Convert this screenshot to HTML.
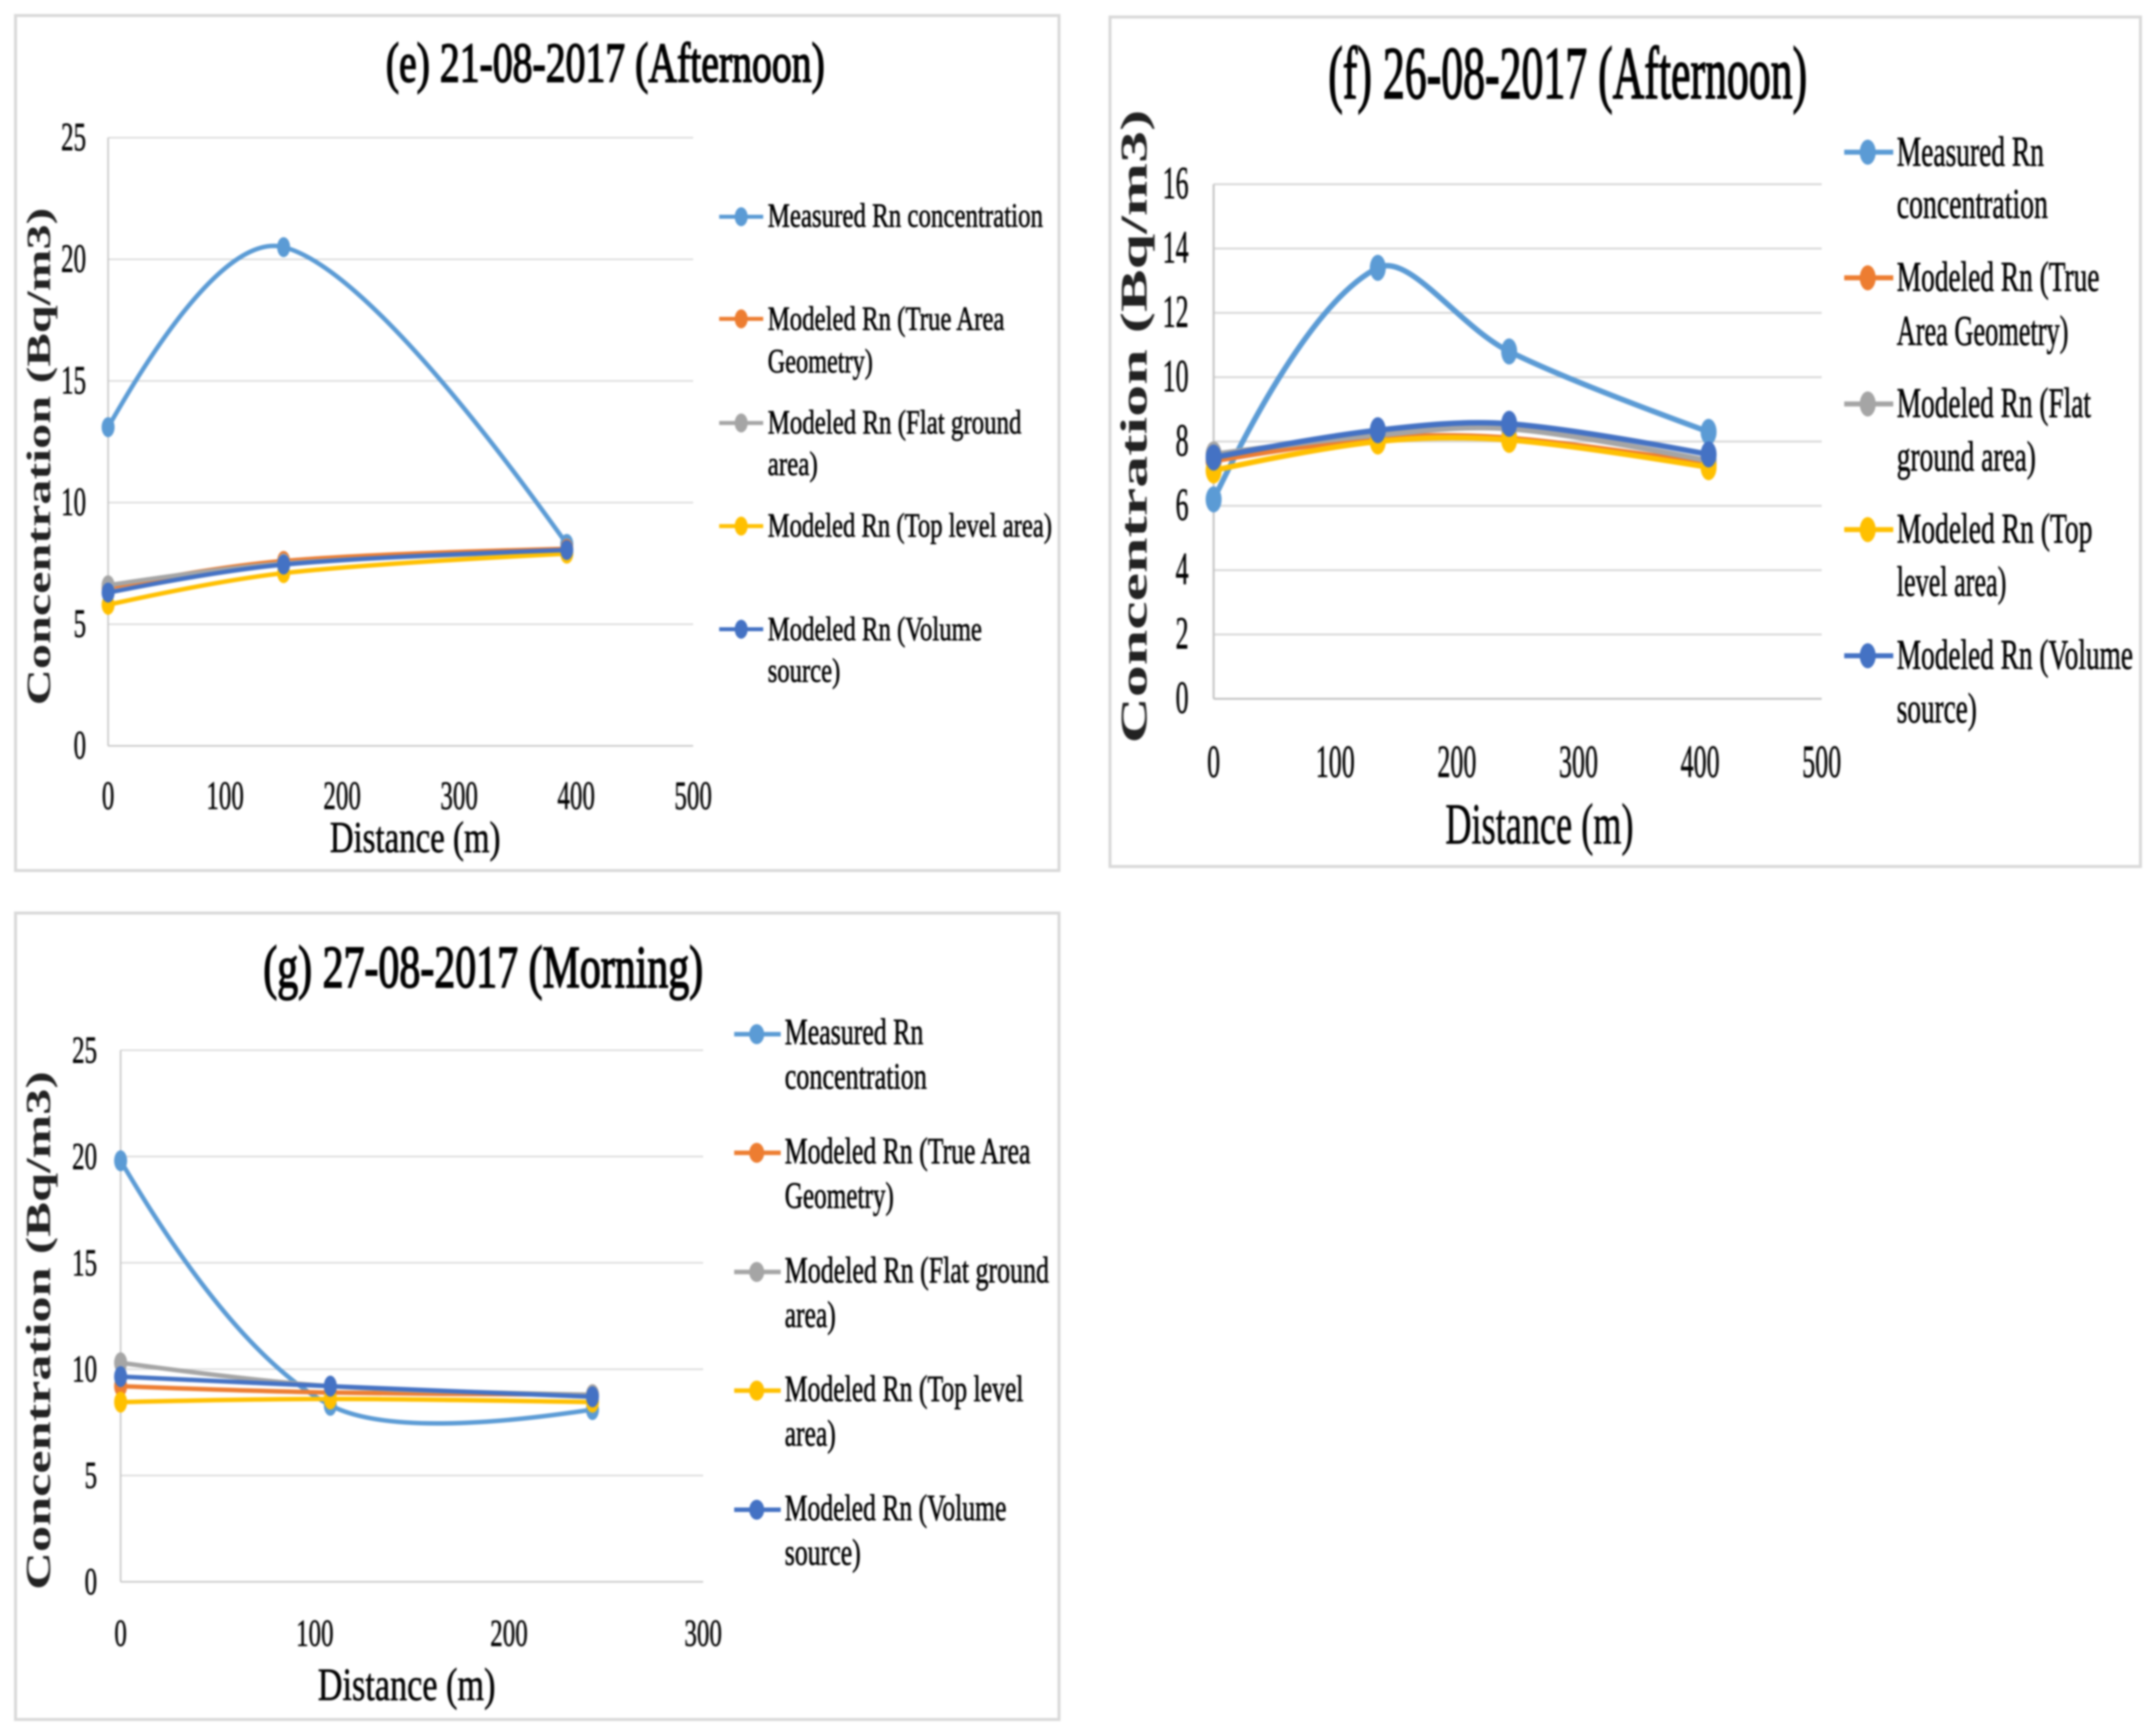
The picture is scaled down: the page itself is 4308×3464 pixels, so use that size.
<!DOCTYPE html>
<html lang="en">
<head>
<meta charset="utf-8">
<title>Rn concentration vs distance charts</title>
<style>
html,body{margin:0;padding:0;background:#fff;width:4308px;height:3464px;overflow:hidden}
svg{display:block;filter:blur(1.8px)}
text{font-family:"Liberation Serif",serif;fill:#000}
.title{stroke:#000;stroke-width:3px}
.ytitle{font-weight:bold;fill:#222}
.leg{stroke:#000;stroke-width:1.2px}
.tick{stroke:#000;stroke-width:1px}
</style>
</head>
<body>
<svg id="root" xmlns="http://www.w3.org/2000/svg" width="4308" height="3464" viewBox="0 0 4308 3464">
  <rect width="4308" height="3464" fill="#fff"/>

  <!-- Panel e -->
  <g id="panel-e">
    <rect x="31" y="31" width="2085" height="1708" fill="#fff" stroke="#d9d9d9" stroke-width="6"/>
    <text class="title" x="771" y="163" font-size="112" textLength="877" lengthAdjust="spacingAndGlyphs">(e) 21-08-2017 (Afternoon)</text>
    <text class="ytitle" transform="translate(100,912) rotate(-90)" text-anchor="middle" font-size="68" textLength="994" lengthAdjust="spacingAndGlyphs">Concentration (Bq/m3)</text>
    <text class="leg" x="659" y="1702" font-size="88" textLength="341" lengthAdjust="spacingAndGlyphs">Distance (m)</text>
    <g id="plot-e"></g>
    <g>
      <g>
        <line x1="1437" x2="1525" y1="433" y2="433" stroke="#5B9BD5" stroke-width="8"/><ellipse cx="1481" cy="433" rx="13" ry="19" fill="#5B9BD5"/>
        <text class="leg" x="1534" y="453" font-size="68" textLength="550" lengthAdjust="spacingAndGlyphs">Measured Rn concentration</text>
      </g>
      <g>
        <line x1="1437" x2="1525" y1="637" y2="637" stroke="#ED7D31" stroke-width="8"/><ellipse cx="1481" cy="637" rx="13" ry="19" fill="#ED7D31"/>
        <text class="leg" x="1534" y="659" font-size="68" textLength="473" lengthAdjust="spacingAndGlyphs">Modeled Rn (True Area</text>
        <text class="leg" x="1534" y="744" font-size="68" textLength="210" lengthAdjust="spacingAndGlyphs">Geometry)</text>
      </g>
      <g>
        <line x1="1437" x2="1525" y1="845" y2="845" stroke="#A5A5A5" stroke-width="8"/><ellipse cx="1481" cy="845" rx="13" ry="19" fill="#A5A5A5"/>
        <text class="leg" x="1534" y="866" font-size="68" textLength="507" lengthAdjust="spacingAndGlyphs">Modeled Rn (Flat ground</text>
        <text class="leg" x="1534" y="949" font-size="68" textLength="100" lengthAdjust="spacingAndGlyphs">area)</text>
      </g>
      <g>
        <line x1="1437" x2="1525" y1="1051" y2="1051" stroke="#FFC000" stroke-width="8"/><ellipse cx="1481" cy="1051" rx="13" ry="19" fill="#FFC000"/>
        <text class="leg" x="1534" y="1072" font-size="68" textLength="568" lengthAdjust="spacingAndGlyphs">Modeled Rn (Top level area)</text>
      </g>
      <g>
        <line x1="1437" x2="1525" y1="1257" y2="1257" stroke="#4472C4" stroke-width="8"/><ellipse cx="1481" cy="1257" rx="13" ry="19" fill="#4472C4"/>
        <text class="leg" x="1534" y="1279" font-size="68" textLength="428" lengthAdjust="spacingAndGlyphs">Modeled Rn (Volume</text>
        <text class="leg" x="1534" y="1362" font-size="68" textLength="145" lengthAdjust="spacingAndGlyphs">source)</text>
      </g>
    </g>
  </g>

  <!-- Panel f -->
  <g id="panel-f">
    <rect x="2218" y="34" width="2059" height="1697" fill="#fff" stroke="#d9d9d9" stroke-width="6"/>
    <text class="title" x="2654" y="196" font-size="149" textLength="957" lengthAdjust="spacingAndGlyphs">(f) 26-08-2017 (Afternoon)</text>
    <text class="ytitle" transform="translate(2291,852) rotate(-90)" text-anchor="middle" font-size="75" textLength="1266" lengthAdjust="spacingAndGlyphs">Concentration (Bq/m3)</text>
    <text class="leg" x="2888" y="1685" font-size="115" textLength="376" lengthAdjust="spacingAndGlyphs">Distance (m)</text>
    <g id="plot-f"></g>
    <g>
      <g>
        <line x1="3685" x2="3783" y1="304" y2="304" stroke="#5B9BD5" stroke-width="10"/><ellipse cx="3732" cy="304" rx="16" ry="25" fill="#5B9BD5"/>
        <text class="leg" x="3790" y="331" font-size="85" textLength="294" lengthAdjust="spacingAndGlyphs">Measured Rn</text>
        <text class="leg" x="3790" y="435" font-size="85" textLength="302" lengthAdjust="spacingAndGlyphs">concentration</text>
      </g>
      <g>
        <line x1="3685" x2="3783" y1="555" y2="555" stroke="#ED7D31" stroke-width="10"/><ellipse cx="3732" cy="555" rx="16" ry="25" fill="#ED7D31"/>
        <text class="leg" x="3790" y="581" font-size="85" textLength="405" lengthAdjust="spacingAndGlyphs">Modeled Rn (True</text>
        <text class="leg" x="3790" y="689" font-size="85" textLength="343" lengthAdjust="spacingAndGlyphs">Area Geometry)</text>
      </g>
      <g>
        <line x1="3685" x2="3783" y1="807" y2="807" stroke="#A5A5A5" stroke-width="10"/><ellipse cx="3732" cy="807" rx="16" ry="25" fill="#A5A5A5"/>
        <text class="leg" x="3790" y="833" font-size="85" textLength="388" lengthAdjust="spacingAndGlyphs">Modeled Rn (Flat</text>
        <text class="leg" x="3790" y="940" font-size="85" textLength="278" lengthAdjust="spacingAndGlyphs">ground area)</text>
      </g>
      <g>
        <line x1="3685" x2="3783" y1="1058" y2="1058" stroke="#FFC000" stroke-width="10"/><ellipse cx="3732" cy="1058" rx="16" ry="25" fill="#FFC000"/>
        <text class="leg" x="3790" y="1084" font-size="85" textLength="391" lengthAdjust="spacingAndGlyphs">Modeled Rn (Top</text>
        <text class="leg" x="3790" y="1190" font-size="85" textLength="219" lengthAdjust="spacingAndGlyphs">level area)</text>
      </g>
      <g>
        <line x1="3685" x2="3783" y1="1310" y2="1310" stroke="#4472C4" stroke-width="10"/><ellipse cx="3732" cy="1310" rx="16" ry="25" fill="#4472C4"/>
        <text class="leg" x="3790" y="1336" font-size="85" textLength="472" lengthAdjust="spacingAndGlyphs">Modeled Rn (Volume</text>
        <text class="leg" x="3790" y="1443" font-size="85" textLength="160" lengthAdjust="spacingAndGlyphs">source)</text>
      </g>
    </g>
  </g>

  <!-- Panel g -->
  <g id="panel-g">
    <rect x="31" y="1824" width="2085" height="1611" fill="#fff" stroke="#d9d9d9" stroke-width="6"/>
    <text class="title" x="526" y="1972" font-size="120" textLength="879" lengthAdjust="spacingAndGlyphs">(g) 27-08-2017 (Morning)</text>
    <text class="ytitle" transform="translate(100,2658) rotate(-90)" text-anchor="middle" font-size="70" textLength="1036" lengthAdjust="spacingAndGlyphs">Concentration (Bq/m3)</text>
    <text class="leg" x="635" y="3396" font-size="92" textLength="355" lengthAdjust="spacingAndGlyphs">Distance (m)</text>
    <g id="plot-g"></g>
    <g>
      <g>
        <line x1="1467" x2="1560" y1="2066" y2="2066" stroke="#5B9BD5" stroke-width="9"/><ellipse cx="1512" cy="2066" rx="15" ry="20" fill="#5B9BD5"/>
        <text class="leg" x="1568" y="2086" font-size="74" textLength="277" lengthAdjust="spacingAndGlyphs">Measured Rn</text>
        <text class="leg" x="1568" y="2175" font-size="74" textLength="284" lengthAdjust="spacingAndGlyphs">concentration</text>
      </g>
      <g>
        <line x1="1467" x2="1560" y1="2303" y2="2303" stroke="#ED7D31" stroke-width="9"/><ellipse cx="1512" cy="2303" rx="15" ry="20" fill="#ED7D31"/>
        <text class="leg" x="1568" y="2324" font-size="74" textLength="491" lengthAdjust="spacingAndGlyphs">Modeled Rn (True Area</text>
        <text class="leg" x="1568" y="2413" font-size="74" textLength="218" lengthAdjust="spacingAndGlyphs">Geometry)</text>
      </g>
      <g>
        <line x1="1467" x2="1560" y1="2541" y2="2541" stroke="#A5A5A5" stroke-width="9"/><ellipse cx="1512" cy="2541" rx="15" ry="20" fill="#A5A5A5"/>
        <text class="leg" x="1568" y="2562" font-size="74" textLength="528" lengthAdjust="spacingAndGlyphs">Modeled Rn (Flat ground</text>
        <text class="leg" x="1568" y="2651" font-size="74" textLength="102" lengthAdjust="spacingAndGlyphs">area)</text>
      </g>
      <g>
        <line x1="1467" x2="1560" y1="2778" y2="2778" stroke="#FFC000" stroke-width="9"/><ellipse cx="1512" cy="2778" rx="15" ry="20" fill="#FFC000"/>
        <text class="leg" x="1568" y="2799" font-size="74" textLength="477" lengthAdjust="spacingAndGlyphs">Modeled Rn (Top level</text>
        <text class="leg" x="1568" y="2888" font-size="74" textLength="102" lengthAdjust="spacingAndGlyphs">area)</text>
      </g>
      <g>
        <line x1="1467" x2="1560" y1="3016" y2="3016" stroke="#4472C4" stroke-width="9"/><ellipse cx="1512" cy="3016" rx="15" ry="20" fill="#4472C4"/>
        <text class="leg" x="1568" y="3037" font-size="74" textLength="443" lengthAdjust="spacingAndGlyphs">Modeled Rn (Volume</text>
        <text class="leg" x="1568" y="3126" font-size="74" textLength="152" lengthAdjust="spacingAndGlyphs">source)</text>
      </g>
    </g>
  </g>
</svg>
<script>
// Panel e data
const eDistance = [0, 150, 392];
const eMeasured = [13.1, 20.5, 8.3];
const eTrueArea = [6.5, 7.6, 8.1];
const eFlatGround = [6.6, 7.5, 8.0];
const eTopLevel = [5.8, 7.1, 7.9];
const eVolume = [6.3, 7.45, 8.05];
const eXTicks = [0, 100, 200, 300, 400, 500];
const eYTicks = [0, 5, 10, 15, 20, 25];

// Panel f data
const fDistance = [0, 135, 243, 407];
const fMeasured = [6.2, 13.4, 10.8, 8.3];
const fTrueArea = [7.4, 8.1, 8.1, 7.3];
const fFlatGround = [7.6, 8.2, 8.4, 7.4];
const fTopLevel = [7.1, 8.0, 8.05, 7.2];
const fVolume = [7.5, 8.35, 8.55, 7.6];
const fXTicks = [0, 100, 200, 300, 400, 500];
const fYTicks = [0, 2, 4, 6, 8, 10, 12, 14, 16];

// Panel g data
const gDistance = [0, 108, 243];
const gMeasured = [19.8, 8.3, 8.1];
const gTrueArea = [9.2, 8.9, 8.8];
const gFlatGround = [10.3, 9.2, 8.8];
const gTopLevel = [8.45, 8.6, 8.45];
const gVolume = [9.65, 9.2, 8.7];
const gXTicks = [0, 100, 200, 300];
const gYTicks = [0, 5, 10, 15, 20, 25];

const SVGNS = 'http://www.w3.org/2000/svg';
const seriesNames = ['measured', 'true-area', 'flat-ground', 'top-level', 'volume'];
const seriesColors = ['#5B9BD5', '#ED7D31', '#A5A5A5', '#FFC000', '#4472C4'];

function smoothPath(pts) {
  const inScale = 0.36;
  const outScale = 0.3;
  const endFactor = 0.25;
  const n = pts.length;
  const handles = pts.map(function (p, i) {
    if (i === 0 || i === n - 1) return null;
    const a = pts[i - 1], b = pts[i + 1];
    const d0 = Math.hypot(p[0] - a[0], p[1] - a[1]);
    const d1 = Math.hypot(b[0] - p[0], b[1] - p[1]);
    const tx = b[0] - a[0], ty = b[1] - a[1];
    const r0 = d0 / (d0 + d1), r1 = d1 / (d0 + d1);
    return {
      inn: [p[0] - tx * r0 * inScale, p[1] - ty * r0 * inScale],
      out: [p[0] + tx * r1 * outScale, p[1] + ty * r1 * outScale]
    };
  });
  let d = 'M' + pts[0][0] + ' ' + pts[0][1];
  for (let i = 0; i < n - 1; i++) {
    const p = pts[i], q = pts[i + 1];
    const c1 = handles[i] ? handles[i].out : (handles[i + 1] ? [p[0] + (handles[i + 1].inn[0] - p[0]) * endFactor, p[1] + (handles[i + 1].inn[1] - p[1]) * endFactor] : p);
    const c2 = handles[i + 1] ? handles[i + 1].inn : (handles[i] ? [q[0] + (handles[i].out[0] - q[0]) * endFactor, q[1] + (handles[i].out[1] - q[1]) * endFactor] : q);
    d += 'C' + c1[0] + ' ' + c1[1] + ' ' + c2[0] + ' ' + c2[1] + ' ' + q[0] + ' ' + q[1];
  }
  return d;
}

function drawPlot(id, box, style, xTicks, yTicks, xs, allSeries) {
  const g = document.getElementById(id);
  const xMax = xTicks[xTicks.length - 1];
  const yMax = yTicks[yTicks.length - 1];
  const xScale = function (v) { return box.x0 + v / xMax * (box.x1 - box.x0); };
  const yScale = function (v) { return box.y0 + v / yMax * (box.y1 - box.y0); };

  yTicks.forEach(function (t) {
    const line = document.createElementNS(SVGNS, 'line');
    
    
    line.setAttribute('x1', box.x0);
    line.setAttribute('x2', box.x1);
    line.setAttribute('y1', yScale(t));
    line.setAttribute('y2', yScale(t));
    line.setAttribute('stroke', t === 0 ? '#c4c4c4' : '#d9d9d9');
    line.setAttribute('stroke-width', style.grid);
    g.appendChild(line);

    const label = document.createElementNS(SVGNS, 'text');
    
    
    label.setAttribute('class', 'tick');
    label.setAttribute('x', style.yLabelX);
    label.setAttribute('y', yScale(t) + style.yLabelDy);
    label.setAttribute('text-anchor', 'end');
    label.setAttribute('font-size', style.tickSize);
    label.setAttribute('textLength', String(t).length * style.charW);
    label.setAttribute('lengthAdjust', 'spacingAndGlyphs');
    label.textContent = String(t);
    g.appendChild(label);
  });

  const axis = document.createElementNS(SVGNS, 'line');
  
  
  axis.setAttribute('x1', box.x0);
  axis.setAttribute('x2', box.x0);
  axis.setAttribute('y1', box.y0);
  axis.setAttribute('y2', box.y1);
  axis.setAttribute('stroke', '#c4c4c4');
  axis.setAttribute('stroke-width', style.grid);
  g.appendChild(axis);

  xTicks.forEach(function (t) {
    const label = document.createElementNS(SVGNS, 'text');
    
    
    label.setAttribute('class', 'tick');
    label.setAttribute('x', xScale(t));
    label.setAttribute('y', style.xLabelY);
    label.setAttribute('text-anchor', 'middle');
    label.setAttribute('font-size', style.tickSize);
    label.setAttribute('textLength', String(t).length * style.charW);
    label.setAttribute('lengthAdjust', 'spacingAndGlyphs');
    label.textContent = String(t);
    g.appendChild(label);
  });

  allSeries.forEach(function (values, si) {
    const color = seriesColors[si];
    const pts = values.map(function (v, i) { return [xScale(xs[i]), yScale(v)]; });
    const path = document.createElementNS(SVGNS, 'path');
    
    
    path.setAttribute('d', smoothPath(pts));
    path.setAttribute('fill', 'none');
    path.setAttribute('stroke', color);
    path.setAttribute('stroke-width', style.line);
    path.setAttribute('stroke-linecap', 'round');
    g.appendChild(path);
    pts.forEach(function (p) {
      const m = document.createElementNS(SVGNS, 'ellipse');
      
      
      m.setAttribute('cx', p[0]);
      m.setAttribute('cy', p[1]);
      m.setAttribute('rx', style.rx);
      m.setAttribute('ry', style.ry);
      m.setAttribute('fill', color);
      g.appendChild(m);
    });
  });
}

drawPlot('plot-e',
  { x0: 216, x1: 1385, y0: 1490, y1: 275 },
  { grid: 3, line: 9, rx: 13, ry: 20, tickSize: 80, charW: 25, yLabelX: 172, yLabelDy: 25, xLabelY: 1616 },
  eXTicks, eYTicks, eDistance,
  [eMeasured, eTrueArea, eFlatGround, eTopLevel, eVolume]);

drawPlot('plot-f',
  { x0: 2425, x1: 3640, y0: 1396, y1: 368 },
  { grid: 4, line: 11, rx: 16, ry: 26, tickSize: 92, charW: 26, yLabelX: 2375, yLabelDy: 28, xLabelY: 1552 },
  fXTicks, fYTicks, fDistance,
  [fMeasured, fTrueArea, fFlatGround, fTopLevel, fVolume]);

drawPlot('plot-g',
  { x0: 241, x1: 1405, y0: 3160, y1: 2098 },
  { grid: 3, line: 9, rx: 13, ry: 21, tickSize: 76, charW: 25, yLabelX: 194, yLabelDy: 25, xLabelY: 3288 },
  gXTicks, gYTicks, gDistance,
  [gMeasured, gTrueArea, gFlatGround, gTopLevel, gVolume]);
</script>
</body>
</html>
